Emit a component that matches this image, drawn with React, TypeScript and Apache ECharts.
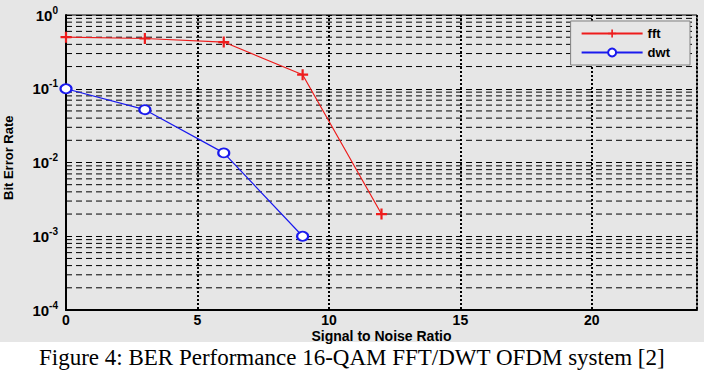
import React, { useEffect, useRef } from "react";
import * as echarts from "echarts";

const snr = [0, 3, 6, 9, 12];
const fftBer = [0.5, 0.48, 0.43, 0.155, 0.002];
const snrDwt = [0, 3, 6, 9];
const dwtBer = [0.1, 0.052, 0.0135, 0.001];
const minorGrid = [
  2e-4, 3e-4, 4e-4, 5e-4, 6e-4, 7e-4, 8e-4, 9e-4,
  2e-3, 3e-3, 4e-3, 5e-3, 6e-3, 7e-3, 8e-3, 9e-3,
  2e-2, 3e-2, 4e-2, 5e-2, 6e-2, 7e-2, 8e-2, 9e-2,
  2e-1, 3e-1, 4e-1, 5e-1, 6e-1, 7e-1, 8e-1, 9e-1,
];
const xMin = 0;
const xMax = 24;
const caption = "Figure 4: BER Performance 16-QAM FFT/DWT OFDM system [2]";

export default function App() {
  const ref = useRef<HTMLDivElement>(null);
  useEffect(() => {
    if (!ref.current) return;
    const chart = echarts.init(ref.current, null, { renderer: "svg" });
    const gray = "#e6e6e6";
    const minorSeries = minorGrid.map((v, i) => ({
      name: "minor" + i,
      type: "line",
      data: [
        [xMin, v],
        [xMax, v],
      ],
      silent: true,
      symbol: "none",
      lineStyle: { color: "#000", type: [6, 4], width: 1 },
      z: 1,
    }));
    chart.setOption({
      animation: false,
      backgroundColor: "#ffffff",
      textStyle: { fontFamily: "Liberation Sans, Arial, sans-serif" },
      graphic: [
        { type: "rect", shape: { x: 0, y: 0, width: 704, height: 342 }, style: { fill: gray }, z: -10, silent: true },
        {
          type: "text",
          left: "center",
          top: 346,
          style: { text: caption, font: "23px 'Liberation Serif', 'Times New Roman', serif", fill: "#000" },
        },
        {
          type: "text",
          x: 2,
          y: 200,
          rotation: Math.PI / 2,
          style: {
            text: "Bit Error Rate",
            font: "bold 13px 'Liberation Sans Narrow', 'Liberation Sans', Arial, sans-serif",
            fill: "#000",
          },
        },
      ],
      grid: {
        left: 66,
        right: 7,
        top: 15,
        bottom: 60,
        show: true,
        borderColor: "#000",
        borderWidth: 1,
        backgroundColor: gray,
      },
      legend: {
        data: ["fft", "dwt"],
        orient: "vertical",
        right: 14,
        top: 21,
        itemWidth: 61,
        itemHeight: 10,
        itemGap: 6,
        padding: [6, 20, 6, 10],
        backgroundColor: gray,
        borderColor: "#808080",
        borderWidth: 1,
        borderRadius: 0,
        textStyle: { fontSize: 13, fontWeight: "bold", color: "#000" },
      },
      xAxis: {
        type: "value",
        min: xMin,
        max: xMax,
        interval: 5,
        name: "Signal to Noise Ratio",
        nameLocation: "middle",
        nameGap: 19,
        nameMoveOverlap: false,
        nameTextStyle: { fontSize: 14, fontWeight: "bold", color: "#000" },
        axisLine: { show: true, lineStyle: { color: "#000", width: 2 } },
        axisTick: { show: false },
        axisLabel: { fontSize: 14, fontWeight: "bold", color: "#000", margin: 3, showMaxLabel: false },
        splitLine: { show: true, lineStyle: { color: "#000", type: [2, 2], width: 2 } },
      },
      yAxis: {
        type: "log",
        logBase: 10,
        min: 1e-4,
        max: 1,
        axisLine: { show: true, lineStyle: { color: "#000", width: 2 } },
        axisTick: { show: false },
        axisLabel: {
          margin: 8,
          formatter: (v: number) => `{b|10}{s|${Math.round(Math.log10(v))}}`,
          rich: {
            b: { fontSize: 15, fontWeight: "bold", color: "#000" },
            s: { fontSize: 10, fontWeight: "bold", color: "#000", padding: [0, 0, 10, 0] },
          },
        },
        splitLine: { show: true, lineStyle: { color: "#000", type: [6, 4], width: 1 } },
      },
      series: [
        ...minorSeries,
        {
          name: "fft",
          type: "line",
          data: snr.map((x, i) => [x, fftBer[i]]),
          color: "#ee1c1c",
          lineStyle: { color: "#ee1c1c", width: 1.2 },
          symbol: "path://M4,0h2v4h4v2h-4v4h-2v-4h-4v-2h4z",
          symbolSize: 11,
          itemStyle: { color: "#ee1c1c" },
          z: 5,
        },
        {
          name: "dwt",
          type: "line",
          data: snrDwt.map((x, i) => [x, dwtBer[i]]),
          color: "#1a1aee",
          lineStyle: { color: "#1a1aee", width: 1.2 },
          symbol: "emptyCircle",
          symbolSize: [11, 9],
          itemStyle: { color: "#1a1aee", borderWidth: 1.5, borderColor: "#1a1aee" },
          z: 5,
        },
      ],
    });
    return () => chart.dispose();
  }, []);
  return <div ref={ref} style={{ position: "fixed", left: 0, top: 0, width: 704, height: 370 }} />;
}
